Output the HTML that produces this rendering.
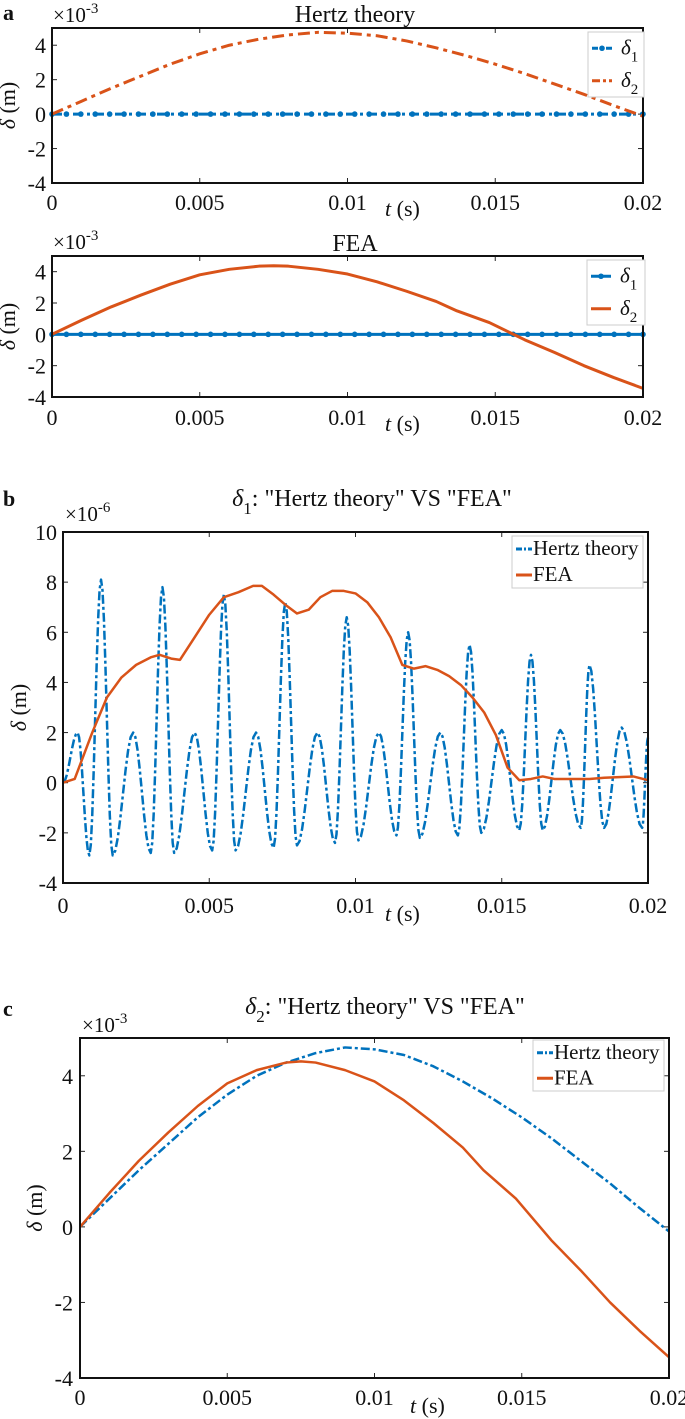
<!DOCTYPE html>
<html><head><meta charset="utf-8"><style>
body{margin:0;background:#fff}
svg{display:block;font-family:"Liberation Serif",serif}
</style></head><body>
<svg id="fig" width="685" height="1419" viewBox="0 0 685 1419" xmlns="http://www.w3.org/2000/svg"></svg>
<script>
// ---- data ----
const tGrid = [0,0.001,0.002,0.003,0.004,0.005,0.006,0.007,0.008,0.009,0.010,0.011,0.012,0.013,0.014,0.015,0.016,0.017,0.018,0.019,0.020];
const hertzD2 = [0,0.75,1.5,2.2,2.9,3.5,4.0,4.35,4.6,4.75,4.7,4.55,4.25,3.85,3.4,2.9,2.35,1.75,1.15,0.5,-0.12];
const feaD2T = [0,0.001,0.002,0.003,0.004,0.005,0.006,0.007,0.0075,0.008,0.009,0.010,0.011,0.012,0.013,0.0137,0.0148,0.016,0.017,0.018,0.019,0.020];
const feaD2 = [0,0.9,1.75,2.5,3.2,3.8,4.15,4.35,4.38,4.35,4.15,3.85,3.35,2.75,2.1,1.5,0.75,-0.35,-1.15,-2.0,-2.75,-3.45];
const zeroT = [0,0.02];
const zeroV = [0,0];
const hertzD1T = [0,0.0005,0.0009,0.0013,0.0017,0.0024,0.0030,0.0034,0.0038,0.0045,0.0051,0.0055,0.0059,0.0066,0.0072,0.0076,0.0080,0.0087,0.0093,0.0097,0.0101,0.0108,0.0114,0.0118,0.0122,0.0129,0.0135,0.0139,0.0143,0.0150,0.0156,0.0160,0.0164,0.0170,0.0177,0.0180,0.0185,0.0191,0.0198,0.0200];
const hertzD1 = [0,2.0,-2.9,8.1,-2.9,2.0,-2.8,7.8,-2.8,2.0,-2.7,7.5,-2.7,2.0,-2.6,7.2,-2.5,2.0,-2.4,6.6,-2.3,2.0,-2.1,6.0,-2.2,2.0,-2.1,5.5,-2.0,2.1,-1.9,5.1,-1.9,2.1,-1.8,4.7,-1.8,2.2,-1.8,1.8];
const feaD1T = [0,0.0004,0.001,0.0015,0.002,0.0025,0.003,0.0033,0.0037,0.004,0.0045,0.005,0.0055,0.006,0.0065,0.0068,0.0072,0.0076,0.008,0.0084,0.0088,0.0092,0.0096,0.01,0.0104,0.0108,0.0112,0.0116,0.012,0.0124,0.0128,0.0132,0.0136,0.014,0.0144,0.0148,0.0152,0.0156,0.016,0.0164,0.0168,0.0175,0.018,0.0185,0.0195,0.02];
const feaD1 = [0,0.15,2.0,3.4,4.2,4.7,5.0,5.1,4.95,4.9,5.8,6.7,7.4,7.6,7.85,7.85,7.5,7.1,6.75,6.9,7.4,7.65,7.65,7.55,7.2,6.6,5.8,4.7,4.55,4.65,4.5,4.25,3.9,3.4,2.8,1.9,0.6,0.1,0.15,0.25,0.15,0.15,0.15,0.2,0.25,0.1];
const xTickVals = [0,0.005,0.01,0.015,0.02];
const xTickLabels = ["0","0.005","0.01","0.015","0.02"];
const yTicksA = [-4,-2,0,2,4];
const yTicksB = [-4,-2,0,2,4,6,8,10];
const BLUE="#0072BD", ORANGE="#D95319";
const NS="http://www.w3.org/2000/svg";
const svg=document.getElementById('fig');
function el(tag,attrs,parent,text){const e=document.createElementNS(NS,tag);for(const k in attrs)e.setAttribute(k,attrs[k]);if(text!==undefined)e.textContent=text;(parent||svg).appendChild(e);return e;}

function makeAxes(name,x0,x1,yT,yB,ymin,ymax,yticks,labX,xLabY,tX,tY,expX,expY,exp){
  const g=el('g',{});
  
  
  const sx=v=>x0+(v/0.02)*(x1-x0);
  const sy=v=>yB-(v-ymin)/(ymax-ymin)*(yB-yT);
  xTickVals.forEach((v,i)=>{
    const x=sx(v);
    el('line',{x1:x,x2:x,y1:yB,y2:yB-5,stroke:'#262626','stroke-width':1},g);
    el('line',{x1:x,x2:x,y1:yT,y2:yT+5,stroke:'#262626','stroke-width':1},g);
    const t=el('text',{x:x,y:xLabY,'text-anchor':'middle','font-size':22,fill:'#111'},g,xTickLabels[i]);
    
    
  });
  yticks.forEach(v=>{
    const y=sy(v);
    el('line',{x1:x0,x2:x0+5,y1:y,y2:y,stroke:'#262626','stroke-width':1},g);
    el('line',{x1:x1,x2:x1-5,y1:y,y2:y,stroke:'#262626','stroke-width':1},g);
    const t=el('text',{x:labX,y:y+8,'text-anchor':'end','font-size':22,fill:'#111'},g,String(v));
    
    
  });
  const xl=el('text',{x:tX,y:tY,'font-size':22,fill:'#111'},g);
  
  
  el('tspan',{'font-style':'italic'},xl,'t');
  el('tspan',{},xl,' (s)');
  const ylx=labX-31, yly=(yT+yB)/2;
  const yl=el('text',{x:ylx,y:yly,'font-size':22,fill:'#111','text-anchor':'middle',transform:`rotate(-90 ${ylx} ${yly})`},g);
  
  
  el('tspan',{'font-style':'italic'},yl,'δ');
  el('tspan',{},yl,' (m)');
  const ex=el('text',{x:expX,y:expY,'font-size':21,fill:'#111'},g);
  
  
  el('tspan',{},ex,'×10');
  el('tspan',{dy:-9,'font-size':15},ex,exp);
  return {g,sx,sy,x0,x1,yT,yB};
}
function finishBox(ax){
  el('rect',{x:ax.x0,y:ax.yT,width:ax.x1-ax.x0,height:ax.yB-ax.yT,fill:'none',stroke:'#111','stroke-width':2},ax.g);
}
function line(ax,ts,vs,color,dash,w,name){
  const d=ts.map((t,i)=>(i?'L':'M')+ax.sx(t).toFixed(2)+','+ax.sy(vs[i]).toFixed(2)).join(' ');
  const p=el('path',{d:d,fill:'none',stroke:color,'stroke-width':w,'stroke-dasharray':dash||'none','stroke-linejoin':'round'},ax.g);
  
  
  return p;
}
function smoothExtrema(ax,ts,vs,color,dash,w,name){
  let d='M'+ax.sx(ts[0]).toFixed(2)+','+ax.sy(vs[0]).toFixed(2);
  for(let i=1;i<ts.length;i++){
    const n=8;
    for(let k=1;k<=n;k++){
      const f=(1-Math.cos(Math.PI*k/n))/2;
      const t=ts[i-1]+(ts[i]-ts[i-1])*k/n;
      const v=vs[i-1]+(vs[i]-vs[i-1])*f;
      d+=' L'+ax.sx(t).toFixed(2)+','+ax.sy(v).toFixed(2);
    }
  }
  const p=el('path',{d:d,fill:'none',stroke:color,'stroke-width':w,'stroke-dasharray':dash||'none','stroke-linejoin':'round'},ax.g);
  
  
}
function markers(ax,color,name){
  for(let i=0;i<=41;i++){
    const t=0.02*i/41;
    const c=el('circle',{cx:ax.sx(t),cy:ax.sy(0),r:2.8,fill:color},ax.g);
    
    
  }
}
function legend(ax,x,y,w,h,entries,fs,sub){
  const lg=el('g',{});
  
  
  el('rect',{x:x,y:y,width:w,height:h,fill:'#fff',stroke:'#ccc','stroke-width':1},lg);
  entries.forEach((e,i)=>{
    const cy=y+h*(i+0.5)/entries.length;
    el('line',{x1:x+4,x2:x+(sub?24:20),y1:cy,y2:cy,stroke:e.c,'stroke-width':3,'stroke-dasharray':e.d||'none'},lg);
    if(e.m) el('circle',{cx:x+14,cy:cy,r:2.8,fill:e.c},lg);
    const t=el('text',{x:x+(sub?33:21),y:cy+6,'font-size':fs,fill:'#111'},lg);
    
    
    if(sub){el('tspan',{'font-style':'italic'},t,'δ');el('tspan',{dy:7,'font-size':15},t,e.s);}
    else t.textContent=e.s;
  });
}
function title(x,y,txt,sub,rest){
  const t=el('text',{x:x,y:y,'font-size':24,'text-anchor':'middle',fill:'#111'});
  
  
  if(sub){el('tspan',{'font-style':'italic'},t,'δ');el('tspan',{dy:8,'font-size':17},t,sub);el('tspan',{dy:-8},t,rest);}
  else t.textContent=txt;
}
function panelLabel(x,y,s){
  const t=el('text',{x:x,y:y,'font-size':22,'font-weight':'bold',fill:'#111'},svg,s);
  
  
}

// Panel a1
panelLabel(3,20,'a');
title(355,22,'Hertz theory');
const a1=makeAxes('axes-a-hertz',52,643,28,183,-4,5,yTicksA,46,210,385,216,53,22,'-3');
line(a1,zeroT,zeroV,BLUE,'10,4,3,4',3,'delta1-line');
markers(a1,BLUE,'delta1-marker');
line(a1,tGrid,hertzD2,ORANGE,'12,5,4,5',3,'delta2-line');
finishBox(a1);
legend(a1,588,32,56,65,[{c:BLUE,d:'6,3,2,3',s:'1',m:1},{c:ORANGE,d:'8,3,3,3',s:'2'}],21,true);

// Panel a2
title(355,251,'FEA');
const a2=makeAxes('axes-a-fea',52,643,256,397,-4,5,yTicksA,46,425,385,431,53,249,'-3');
line(a2,zeroT,zeroV,BLUE,null,3,'delta1-line');
markers(a2,BLUE,'delta1-marker');
line(a2,feaD2T,feaD2,ORANGE,null,3,'delta2-line');
finishBox(a2);
legend(a2,587,260,58,65,[{c:BLUE,s:'1',m:1},{c:ORANGE,s:'2'}],21,true);

// Panel b
panelLabel(3,506,'b');
title(372,506,null,'1',': "Hertz theory" VS "FEA"');
const b=makeAxes('axes-b',63,648,532,883,-4,10,yTicksB,57,913,385,921,65,521,'-6');
smoothExtrema(b,hertzD1T,hertzD1,BLUE,'9,3,3,3',2.5,'hertz-line');
line(b,feaD1T,feaD1,ORANGE,null,2.5,'fea-line');
finishBox(b);
legend(b,512,536,131,52,[{c:BLUE,d:'6,2,2,2',s:'Hertz theory'},{c:ORANGE,s:'FEA'}],21,false);

// Panel c
panelLabel(3,1016,'c');
title(385,1014,null,'2',': "Hertz theory" VS "FEA"');
const c=makeAxes('axes-c',80,669,1038,1378,-4,5,yTicksA,73,1405,410,1413,82,1032,'-3');
line(c,tGrid,hertzD2,BLUE,'9,3,3,3',2.5,'hertz-line');
line(c,feaD2T,feaD2,ORANGE,null,2.5,'fea-line');
finishBox(c);
legend(c,533,1040,131,51,[{c:BLUE,d:'6,2,2,2',s:'Hertz theory'},{c:ORANGE,s:'FEA'}],21,false);
</script>
</body></html>
